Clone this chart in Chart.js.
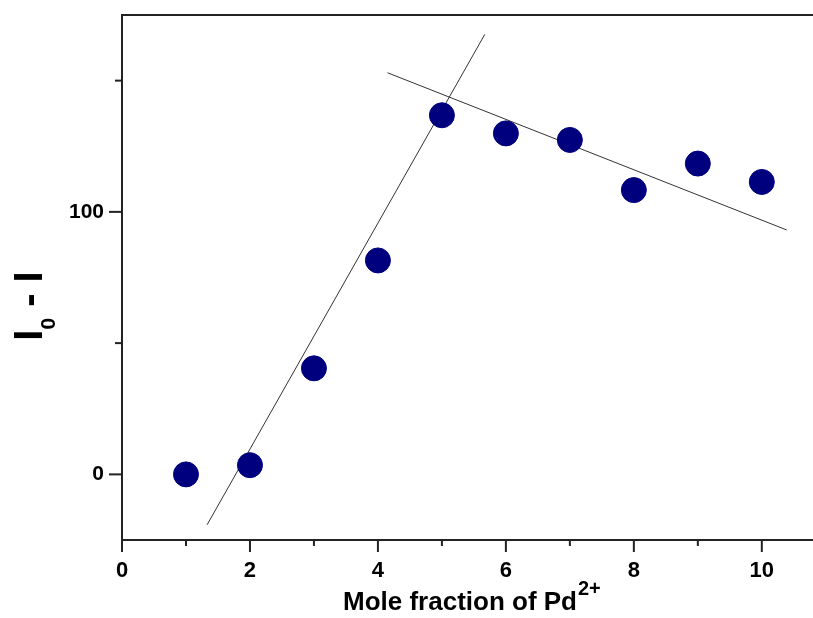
<!DOCTYPE html>
<html>
<head>
<meta charset="utf-8">
<script src="https://cdn.jsdelivr.net/npm/chart.js@4.4.1/dist/chart.umd.min.js"></script>
<style>
  html, body { margin: 0; padding: 0; background: #fff; overflow: hidden; }
  #wrap { width: 813px; height: 618px; position: relative; }
</style>
</head>
<body>
<div id="wrap"><canvas id="myChart"></canvas></div>
<script>
// mole fraction (x) and I0 - I (y)
const moleFraction = [1, 2, 3, 4, 5, 6, 7, 8, 9, 10];
const intensityDrop = [0, 3.5, 40.4, 81.5, 136.8, 129.9, 127.4, 108.3, 118.4, 111.4];

// the two hand drawn fit lines (end points)
const riseLineX = [1.33, 5.67];
const riseLineY = [-19.2, 167.6];
const fallLineX = [4.15, 10.39];
const fallLineY = [153.0, 93.1];

const xTickLabels = [0, 2, 4, 6, 8, 10];
const yTickLabels = [0, 100];

const fontFamily = '"Liberation Sans", Arial, sans-serif';

const toPoints = (xs, ys) => xs.map((x, i) => ({ x: x, y: ys[i] }));

// ticks, x tick labels, top border and axis titles
const axisDecor = {
    id: 'axisDecor',
    afterDraw(chart) {
        const c = chart.ctx;
        const xs = chart.scales.x;
        const ys = chart.scales.y;
        const area = chart.chartArea;
        c.save();
        c.strokeStyle = '#222';
        c.lineWidth = 2;

        // top border
        c.beginPath();
        c.moveTo(area.left - 1, area.top);
        c.lineTo(chart.width, area.top);
        c.stroke();

        // x ticks
        for (let v = 0; v <= 10; v++) {
            const px = xs.getPixelForValue(v);
            const len = v % 2 === 0 ? 12 : 6;
            c.beginPath();
            c.moveTo(px, area.bottom);
            c.lineTo(px, area.bottom + len);
            c.stroke();
        }
        // y ticks
        for (let v = 0; v <= 150; v += 50) {
            const py = ys.getPixelForValue(v);
            const len = v % 100 === 0 ? 13 : 7;
            c.beginPath();
            c.moveTo(area.left, py);
            c.lineTo(area.left - len, py);
            c.stroke();
        }

        c.fillStyle = '#000';
        c.textBaseline = 'alphabetic';

        // x tick labels
        c.textAlign = 'center';
        c.font = 'bold 22px ' + fontFamily;
        xTickLabels.forEach(v => {
            c.fillText(String(v), xs.getPixelForValue(v), 577);
        });

        // x title with superscript
        c.textAlign = 'left';
        const main = 'Mole fraction of Pd';
        const sup = '2+';
        c.font = 'bold 26px ' + fontFamily;
        const mainW = c.measureText(main).width;
        const startX = 343;
        c.fillText(main, startX, 610);
        c.font = 'bold 20px ' + fontFamily;
        c.fillText(sup, startX + mainW + 1, 595);

        // y title with subscript, rotated
        c.translate(42, 306);
        c.rotate(-Math.PI / 2);
        const a = 'I';
        const sub = '0';
        const b = ' - I';
        c.font = 'bold 40px ' + fontFamily;
        const aW = c.measureText(a).width;
        const bW = c.measureText(b).width;
        c.font = 'bold 21px ' + fontFamily;
        const subW = c.measureText(sub).width;
        const tx = -(aW + subW + bW) / 2;
        c.font = 'bold 40px ' + fontFamily;
        c.fillText(a, tx, 0);
        c.font = 'bold 21px ' + fontFamily;
        c.fillText(sub, tx + aW, 13);
        c.font = 'bold 40px ' + fontFamily;
        c.fillText(b, tx + aW + subW, 0);
        c.restore();
    }
};

const ctx = document.getElementById('myChart').getContext('2d');
const myChart = new Chart(ctx, {
    type: 'scatter',
    data: {
        datasets: [
            {
                label: 'I0 - I',
                data: toPoints(moleFraction, intensityDrop),
                backgroundColor: '#00007f',
                borderColor: '#00007f',
                pointRadius: 12.5,
                pointHoverRadius: 12.5,
                order: 1
            },
            {
                label: 'fit 1',
                type: 'line',
                data: toPoints(riseLineX, riseLineY),
                borderColor: '#333',
                borderWidth: 1,
                pointRadius: 0,
                fill: false,
                order: 2
            },
            {
                label: 'fit 2',
                type: 'line',
                data: toPoints(fallLineX, fallLineY),
                borderColor: '#333',
                borderWidth: 1,
                pointRadius: 0,
                fill: false,
                order: 2
            }
        ]
    },
    plugins: [axisDecor],
    options: {
        responsive: true,
        maintainAspectRatio: false,
        animation: false,
        layout: { autoPadding: false, padding: { top: 15, right: 0, left: 0, bottom: 0 } },
        plugins: {
            legend: { display: false },
            tooltip: { enabled: false }
        },
        scales: {
            x: {
                type: 'linear',
                min: 0,
                max: 10.8,
                grid: { display: false, drawTicks: false },
                border: { display: true, color: '#222', width: 2 },
                afterFit: (scale) => { scale.height = 78; },
                ticks: { display: false }
            },
            y: {
                type: 'linear',
                min: -25,
                max: 175,
                grid: { display: false, drawTicks: false },
                border: { display: true, color: '#222', width: 2 },
                afterFit: (scale) => {
                    scale.width = 122;
                    scale.paddingTop = 0;
                    scale.paddingBottom = 0;
                },
                afterBuildTicks: (scale) => {
                    scale.ticks = yTickLabels.map(v => ({ value: v }));
                },
                ticks: {
                    padding: 18,
                    color: '#000',
                    font: { family: fontFamily, size: 21, weight: 'bold' }
                }
            }
        }
    }
});
</script>
</body>
</html>
